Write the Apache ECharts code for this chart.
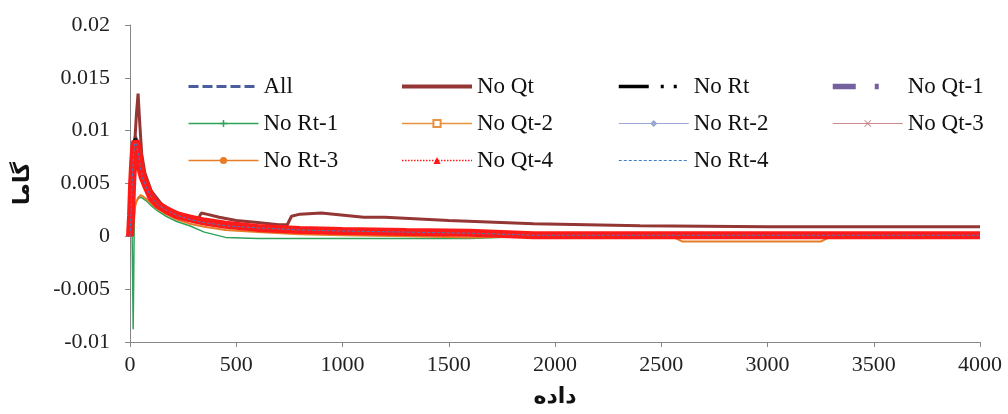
<!DOCTYPE html>
<html>
<head>
<meta charset="utf-8">
<script src="https://cdn.jsdelivr.net/npm/echarts@6/dist/echarts.min.js"></script>
<style>
  html, body { margin: 0; padding: 0; background: #fff; }
  #chart { width: 1008px; height: 414px; }
</style>
</head>
<body>
<div id="chart"></div>
<script>
// shared sample positions (x = data index)
var xs = [0, 5, 10, 15, 20, 25, 30, 40, 50, 60, 80, 100, 130, 170, 220, 280, 350, 450, 600, 800, 1000, 1300, 1600, 1900, 2300, 2700, 3100, 3500, 4000];

var yAll   = [0, 0.003, 0.006, 0.008, 0.0092, 0.0095, 0.0093, 0.0085, 0.0072, 0.0062, 0.0051, 0.0042, 0.0034, 0.0027, 0.0021, 0.0017, 0.0014, 0.0011, 0.0008, 0.0006, 0.0005, 0.0004, 0.0003, 0.0002, 0.0002, 0.0001, 0.0001, 0.0001, 0.0001];
var yNoRt  = [0, 0.0028, 0.0058, 0.0078, 0.009, 0.0092, 0.009, 0.0082, 0.007, 0.006, 0.005, 0.0041, 0.0033, 0.0026, 0.002, 0.0016, 0.0013, 0.001, 0.0008, 0.0006, 0.0005, 0.0004, 0.0003, 0.0002, 0.0001, 0.0001, 0.0001, 0.0001, 0.0001];
var yNoQt1 = [0, 0.003, 0.0062, 0.0082, 0.009, 0.0093, 0.009, 0.008, 0.0068, 0.0058, 0.0048, 0.004, 0.0032, 0.0026, 0.002, 0.0016, 0.0013, 0.001, 0.0007, 0.0005, 0.0004, 0.0003, 0.0003, 0.0001, 0.0001, 0.0001, 0.0001, 0.0001, 0.0001];
var yNoRt1 = [0, 0, 0, -0.0088, 0.0015, 0.003, 0.0033, 0.0036, 0.0037, 0.0036, 0.0033, 0.0029, 0.0024, 0.0019, 0.0014, 0.001, 0.0004, -0.0001, -0.0002, -0.0002, -0.0002, -0.0002, -0.0002, 0, 0, 0, 0, 0, 0];
var yNoQt2 = [0, 0.002, 0.0045, 0.0065, 0.0078, 0.0085, 0.0083, 0.0075, 0.0064, 0.0055, 0.0046, 0.0038, 0.0031, 0.0025, 0.0019, 0.0015, 0.0012, 0.0009, 0.0006, 0.0004, 0.0003, 0.0002, 0.0002, 0, 0, 0, 0, 0, 0];
var yNoRt2 = [0, 0.0026, 0.0055, 0.0075, 0.0088, 0.0091, 0.0089, 0.008, 0.0068, 0.0058, 0.0048, 0.004, 0.0032, 0.0026, 0.002, 0.0016, 0.0013, 0.001, 0.0007, 0.0005, 0.0004, 0.0003, 0.0003, 0.0001, 0.0001, 0.0001, 0.0001, 0.0001, 0.0001];
var yNoQt3 = [0, 0.0025, 0.0052, 0.0072, 0.0086, 0.009, 0.0088, 0.0079, 0.0067, 0.0057, 0.0047, 0.0039, 0.0032, 0.0026, 0.002, 0.0016, 0.0013, 0.001, 0.0007, 0.0006, 0.0005, 0.0004, 0.0003, 0.0001, 0.0001, 0.0001, 0.0001, 0.0001, 0.0001];
var yNoQt4 = [0, 0.002, 0.005, 0.007, 0.0085, 0.009, 0.0088, 0.0078, 0.0064, 0.0056, 0.0046, 0.0037, 0.003, 0.0025, 0.002, 0.0017, 0.0014, 0.0011, 0.0008, 0.0006, 0.0005, 0.0004, 0.00035, 0.0001, 0.0001, 0.0001, 0.0001, 0.0001, 0.0001];
var yNoRt4 = [0, 0.0022, 0.0052, 0.0071, 0.0085, 0.0089, 0.0087, 0.0077, 0.0064, 0.0055, 0.0045, 0.0037, 0.003, 0.0025, 0.002, 0.0016, 0.0013, 0.001, 0.0008, 0.0006, 0.0005, 0.0004, 0.0003, 0.0001, 0.0001, 0.0001, 0.0001, 0.0001, 0.0001];

// No Qt has its own bumps
var xNoQt = [0, 10, 20, 30, 38, 45, 55, 70, 100, 150, 200, 280, 320, 335, 360, 420, 500, 600, 700, 740, 760, 800, 900, 1100, 1200, 1500, 1900, 2400, 3000, 3500, 4000];
var yNoQt = [0, 0.004, 0.008, 0.0115, 0.0135, 0.011, 0.0078, 0.006, 0.0043, 0.003, 0.0024, 0.0018, 0.0016, 0.0022, 0.0021, 0.0018, 0.0015, 0.0013, 0.0011, 0.0011, 0.0019, 0.0021, 0.0022, 0.0018, 0.0018, 0.0015, 0.0012, 0.001, 0.0009, 0.0009, 0.0009];

// No Rt-3 dips below the band late on
var xNoRt3 = [0, 10, 20, 30, 40, 50, 60, 80, 100, 130, 170, 220, 280, 350, 450, 600, 800, 1000, 1300, 1600, 1900, 2300, 2550, 2600, 3250, 3300, 3600, 4000];
var yNoRt3 = [0, 0.001, 0.0025, 0.0033, 0.0037, 0.0039, 0.0038, 0.0035, 0.0031, 0.0026, 0.0021, 0.0016, 0.0012, 0.0009, 0.0006, 0.0004, 0.0002, 0.0001, 0, -0.0001, 0, 0, 0, -0.0005, -0.0005, 0, 0, 0];

var yTicks = { min: -0.01, max: 0.02, step: 0.005 };
var xTicks = { min: 0, max: 4000, step: 500 };

function pairs(xArr, yArr) {
  return xArr.map(function (x, i) { return [x, yArr[i]]; });
}

var plus = "path://M4,0H6V4H10V6H6V10H4V6H0V4H4Z";
var cross = "path://M1,0L5,4L9,0L10,1L6,5L10,9L9,10L5,6L1,10L0,9L4,5L0,1Z";

function line(name, data, color, width, type, symbol) {
  return {
    name: name,
    type: "line",
    data: data,
    showSymbol: false,
    symbol: symbol || "none",
    symbolSize: 7,
    animation: false,
    lineStyle: { color: color, width: width, type: type || "solid" },
    itemStyle: { color: color }
  };
}

var chart = echarts.init(document.getElementById("chart"));

var legendText = { fontFamily: "Liberation Serif", fontSize: 23, color: "#111", lineHeight: 22 };
// legend entry: w = icon line width, hide = no marker
function item(name, w, hide, type) {
  var o = { name: name, lineStyle: { width: w } };
  if (type) o.lineStyle.type = type;
  if (hide) o.itemStyle = { opacity: 0 };
  return o;
}
function legendCol(left, names) {
  return {
    orient: "vertical",
    left: left,
    top: 75,
    padding: 0,
    itemWidth: 70,
    itemHeight: 9,
    itemGap: 14,
    textStyle: legendText,
    data: names
  };
}

var option = {
  backgroundColor: "#fff",
  grid: { left: 130, right: 28, top: 25, bottom: 72 },
  legend: [
    legendCol(187, [item("All", 3, true), item("No Rt-1", 1.5), item("No Rt-3", 1.5)]),
    legendCol(400, [item("No Qt", 4, true), item("No Qt-2", 1.5), item("No Qt-4", 1.5, false, "dotted")]),
    legendCol(617, [item("No Rt", 3.5, true), item("No Rt-2", 1.2), item("No Rt-4", 1.2, true)]),
    legendCol(830, [item("No Qt-1", 5.5, true), item("No Qt-3", 1.2)])
  ],
  xAxis: {
    type: "value",
    min: xTicks.min,
    max: xTicks.max,
    interval: xTicks.step,
    name: "داده",
    nameLocation: "middle",
    nameGap: 44,
    nameTextStyle: { fontFamily: "DejaVu Sans", fontWeight: "bold", fontSize: 22, color: "#111" },
    splitLine: { show: false },
    axisLine: { onZero: false, lineStyle: { color: "#868686", width: 1 } },
    axisTick: { show: true, length: 5, lineStyle: { color: "#868686" } },
    axisLabel: {
      margin: 12,
      fontFamily: "Liberation Serif",
      fontSize: 22,
      color: "#222",
      formatter: function (v) { return String(v); }
    }
  },
  yAxis: {
    type: "value",
    min: yTicks.min,
    max: yTicks.max,
    interval: yTicks.step,
    name: "گاما",
    nameLocation: "middle",
    nameRotate: 90,
    nameGap: 96,
    nameTextStyle: { fontFamily: "DejaVu Sans", fontWeight: "bold", fontSize: 22, color: "#111" },
    splitLine: { show: false },
    axisLine: { show: true, lineStyle: { color: "#868686", width: 1 } },
    axisTick: { show: true, length: 5, lineStyle: { color: "#868686" } },
    axisLabel: {
      margin: 20,
      fontFamily: "Liberation Serif",
      fontSize: 22,
      color: "#222",
      formatter: function (v) { return String(+v.toFixed(3)); }
    }
  },
  series: [
    line("All", pairs(xs, yAll), "#4a5e9c", 2.5, [10, 4]),
    line("No Qt", pairs(xNoQt, yNoQt), "#943634", 3),
    line("No Rt", pairs(xs, yNoRt), "#000000", 3.5, [30, 12, 3, 10, 3, 12]),
    line("No Qt-1", pairs(xs, yNoQt1), "#7560a0", 5, [23, 19, 4, 24]),
    line("No Rt-1", pairs(xs, yNoRt1), "#2ea35a", 1.5, "solid", plus),
    line("No Qt-2", pairs(xs, yNoQt2), "#e8923f", 1.5, "solid", "emptyRect"),
    line("No Rt-2", pairs(xs, yNoRt2), "#9aa6d4", 1.5, "solid", "diamond"),
    line("No Qt-3", pairs(xs, yNoQt3), "#c98a8c", 1.5, "solid", cross),
    line("No Rt-3", pairs(xNoRt3, yNoRt3), "#e67c27", 2, "solid", "circle"),
    line("No Qt-4", pairs(xs, yNoQt4), "#ff1a1a", 8, "solid", "triangle"),
    line("No Rt-4", pairs(xs, yNoRt4), "#3f7fc4", 1, [3, 2])
  ]
};

chart.setOption(option);
</script>
</body>
</html>
